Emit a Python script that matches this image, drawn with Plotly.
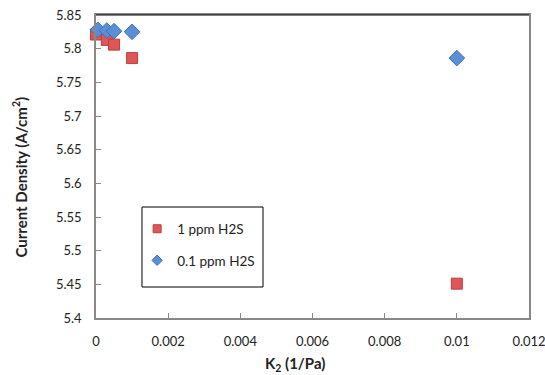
import plotly.graph_objects as go

# data
k_1ppm = [0.0, 0.0003, 0.0005, 0.001, 0.01]
cd_1ppm = [5.821, 5.813, 5.806, 5.786, 5.451]
k_01ppm = [0.00005, 0.0003, 0.0005, 0.001, 0.01]
cd_01ppm = [5.828, 5.827, 5.826, 5.825, 5.786]

x_ticks = [0, 0.002, 0.004, 0.006, 0.008, 0.01, 0.012]
x_tick_labels = ["0", "0.002", "0.004", "0.006", "0.008", "0.01", "0.012"]
y_ticks = [5.4, 5.45, 5.5, 5.55, 5.6, 5.65, 5.7, 5.75, 5.8, 5.85]
y_tick_labels = ["5.4", "5.45", "5.5", "5.55", "5.6", "5.65", "5.7", "5.75", "5.8", "5.85"]
x_title = "<b>K<sub>2</sub> (1/Pa)</b>"
y_title = "<b>Current Density (A/cm<sup>2</sup>)</b>"

FONT = "Lato, Open Sans, sans-serif"
RED = "#e05555"
RED_EDGE = "#b84040"
BLUE = "#5a8fd8"
BLUE_EDGE = "#3f72b8"

fig = go.Figure()
fig.add_trace(go.Scatter(
    x=k_1ppm, y=cd_1ppm, mode="markers", name="1 ppm H2S",
    showlegend=False,
    marker=dict(symbol="square", size=11, color=RED, line=dict(color=RED_EDGE, width=1)),
    cliponaxis=False,
))
fig.add_trace(go.Scatter(
    x=k_01ppm, y=cd_01ppm, mode="markers", name="0.1 ppm H2S",
    showlegend=False,
    marker=dict(symbol="diamond", size=12, color=BLUE, line=dict(color=BLUE_EDGE, width=1)),
    cliponaxis=False,
))
# legend entries (small symbols like the reference)
fig.add_trace(go.Scatter(
    x=[None], y=[None], mode="markers", name="1 ppm H2S", legendgroup="a",
    marker=dict(symbol="square", size=8, color=RED, line=dict(color=RED_EDGE, width=1)),
))
fig.add_trace(go.Scatter(
    x=[None], y=[None], mode="markers", name="0.1 ppm H2S", legendgroup="b",
    marker=dict(symbol="diamond", size=8, color=BLUE, line=dict(color=BLUE_EDGE, width=1)),
))

fig.update_layout(
    width=545, height=375,
    margin=dict(l=96, r=16, t=15, b=57, autoexpand=False),
    paper_bgcolor="white", plot_bgcolor="white",
    font=dict(family=FONT, size=13, color="#222"),
    showlegend=True,
    legend=dict(
        x=0.095, y=0.345, xanchor="left", yanchor="top",
        borderwidth=0, bgcolor="rgba(0,0,0,0)",
        font=dict(family=FONT, size=13.5, color="#222"),
        tracegroupgap=11, itemsizing="trace", itemwidth=30,
        traceorder="grouped",
    ),
    xaxis=dict(
        range=[0, 0.012], tickvals=x_ticks, ticktext=x_tick_labels,
        showgrid=False, zeroline=False, automargin=False,
        showline=True, linecolor="#888", linewidth=1.5, mirror=True,
        ticks="inside", ticklen=5, tickcolor="#888",
        ticklabelstandoff=11, ticklabeloverflow="allow",
        tickfont=dict(size=13),
    ),
    yaxis=dict(
        range=[5.4, 5.85], tickvals=y_ticks, ticktext=y_tick_labels,
        showgrid=False, zeroline=False, automargin=False,
        showline=True, linecolor="#888", linewidth=1.5, mirror=True,
        ticks="inside", ticklen=5, tickcolor="#888",
        ticklabelstandoff=10, ticklabeloverflow="allow",
        tickfont=dict(size=13),
    ),
)
# axis titles (positioned like the reference, off-centre)
fig.add_annotation(text=x_title, xref="paper", yref="paper", x=0.4607, y=-0.153,
                   xanchor="center", yanchor="middle", showarrow=False,
                   font=dict(family=FONT, size=15, color="#222"))
fig.add_annotation(text=y_title, xref="paper", yref="paper", x=-0.1755, y=0.4637,
                   xanchor="center", yanchor="middle", showarrow=False, textangle=-90,
                   font=dict(family=FONT, size=15, color="#222"))
# black top border
fig.add_shape(type="line", xref="paper", yref="paper", x0=0, x1=1, y0=1, y1=1,
              line=dict(color="black", width=1.2))
# legend box
fig.add_shape(type="rect", xref="paper", yref="paper", x0=0.1062, x1=0.3857, y0=0.1023, y1=0.3663,
              line=dict(color="black", width=1), fillcolor="rgba(0,0,0,0)")

fig.write_html("out.html", config={"displayModeBar": False},
               post_script="document.body.style.margin='0';")
